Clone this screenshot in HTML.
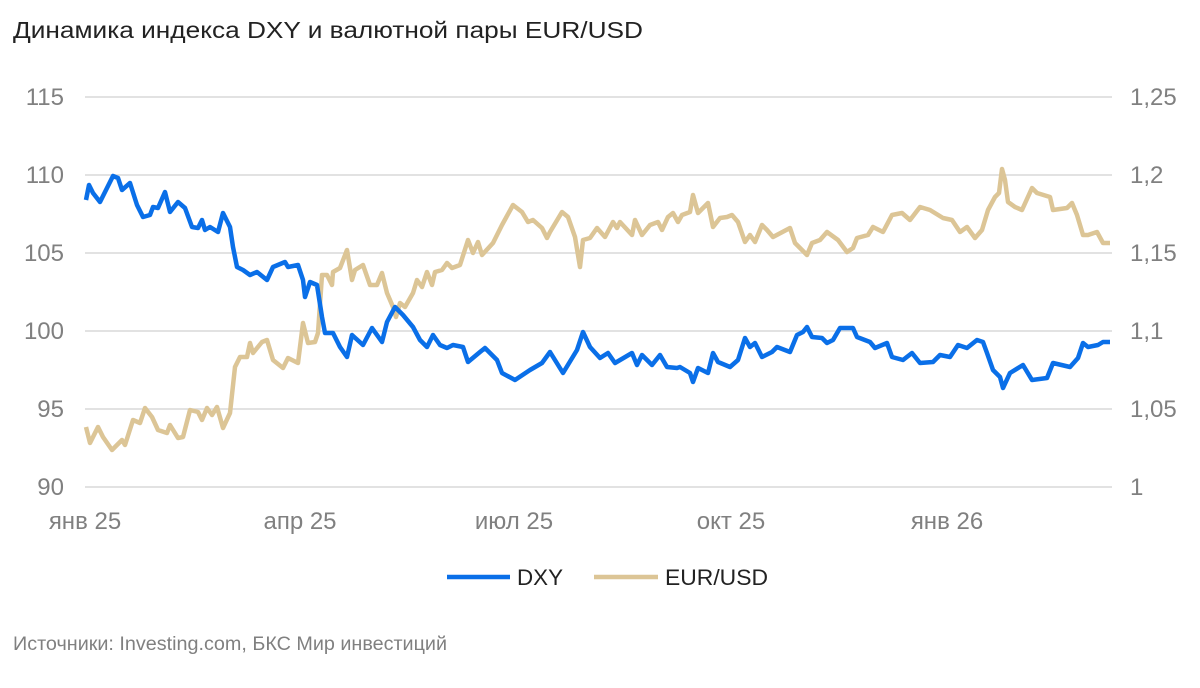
<!DOCTYPE html>
<html><head><meta charset="utf-8"><style>
body{margin:0;background:#fff;width:1200px;height:683px;overflow:hidden;font-family:"Liberation Sans",Arial,sans-serif}
</style></head><body>
<svg width="1200" height="683" xmlns="http://www.w3.org/2000/svg" font-family="Liberation Sans, Arial, sans-serif">
<text x="13" y="38" font-size="23" fill="#222" textLength="630" lengthAdjust="spacingAndGlyphs">Динамика индекса DXY и валютной пары EUR/USD</text>
<g stroke="#d9d9d9" stroke-width="1.5">
<line x1="85" x2="1112" y1="97" y2="97"/><line x1="85" x2="1112" y1="175" y2="175"/>
<line x1="85" x2="1112" y1="253" y2="253"/><line x1="85" x2="1112" y1="331" y2="331"/>
<line x1="85" x2="1112" y1="409" y2="409"/><line x1="85" x2="1112" y1="487" y2="487"/>
</g>
<g font-size="24" fill="#808080" text-anchor="end">
<text x="64" y="105">115</text><text x="64" y="183">110</text><text x="64" y="261">105</text>
<text x="64" y="339">100</text><text x="64" y="417">95</text><text x="64" y="495">90</text>
</g>
<g font-size="24" fill="#808080">
<text x="1130" y="105">1,25</text><text x="1130" y="183">1,2</text><text x="1130" y="261">1,15</text>
<text x="1130" y="339">1,1</text><text x="1130" y="417">1,05</text><text x="1130" y="495">1</text>
</g>
<g font-size="24" fill="#808080" text-anchor="middle">
<text x="85" y="529">янв 25</text><text x="300" y="529">апр 25</text><text x="514" y="529">июл 25</text>
<text x="731" y="529">окт 25</text><text x="947" y="529">янв 26</text>
</g>
<polyline fill="none" stroke="#dcc596" stroke-width="4.5" stroke-linejoin="round" points="86,427 90,443 98,427 103,437 112,450 117,445 122,440 125,445 133,420 140,423 145,408 152,417 158,430 167,433 170,425 178,438 183,437 190,410 198,412 202,420 207,408 212,415 217,407 223,428 230,413 235,367 240,357 247,357 250,343 253,353 262,342 267,340 273,360 283,368 288,358 298,363 303,323 308,343 315,342 318,333 322,275 327,275 332,285 333,272 340,268 347,250 352,280 355,270 363,265 370,285 377,285 382,273 387,293 393,307 396,317 400,303 405,307 413,293 417,280 422,287 427,272 432,285 435,272 442,270 447,263 452,268 460,265 468,240 473,253 478,242 482,255 493,243 502,225 513,205 522,212 528,222 533,220 542,228 547,238 550,232 562,212 568,217 575,237 580,267 583,240 590,238 597,228 605,237 613,222 617,228 620,222 632,235 635,220 642,235 650,225 658,222 662,230 668,217 673,213 678,222 682,215 690,212 693,195 698,213 708,203 713,227 720,218 727,217 732,215 738,222 745,242 750,235 755,242 762,225 767,230 773,237 790,228 795,243 800,248 807,255 812,243 820,240 827,232 838,240 847,252 853,248 857,238 868,235 873,227 883,232 892,215 902,213 910,220 920,207 930,210 943,218 952,220 960,232 967,227 975,238 982,230 988,210 995,197 999,193 1002,169 1005,180 1008,202 1015,207 1022,210 1032,188 1037,193 1050,197 1053,210 1067,208 1072,203 1077,215 1083,235 1088,235 1097,232 1103,243 1110,243"/>
<polyline fill="none" stroke="#0a6fe8" stroke-width="4.5" stroke-linejoin="round" points="86,200 89,185 93,193 100,202 105,192 113,176 118,178 122,190 130,183 137,205 143,217 150,215 153,207 158,208 165,192 170,212 178,202 185,208 192,227 198,228 202,220 205,230 210,227 218,232 223,213 230,227 233,247 237,267 243,270 250,275 257,272 267,280 273,267 285,262 288,267 298,265 303,280 305,297 310,282 317,285 322,317 325,333 333,333 340,347 347,357 352,335 363,345 372,328 382,342 387,322 395,307 403,315 413,327 420,340 427,347 433,335 440,345 447,348 453,345 463,347 468,362 480,352 485,348 497,360 502,373 515,380 530,370 542,363 550,352 563,373 577,350 583,332 590,347 600,358 608,353 615,363 632,353 637,365 642,355 652,365 660,355 667,367 677,368 680,367 690,373 693,382 698,368 708,373 713,353 718,362 730,367 738,360 745,338 750,347 755,343 762,357 772,352 777,347 790,352 797,335 803,332 807,327 812,337 822,338 827,343 833,340 840,328 853,328 857,337 870,342 875,348 887,343 892,357 903,360 912,353 920,363 933,362 940,355 950,357 958,345 967,348 977,340 983,342 987,353 993,370 1000,377 1003,388 1010,373 1023,365 1032,380 1047,378 1053,363 1070,367 1078,358 1083,343 1088,347 1098,345 1103,342 1110,342"/>
<line x1="447" x2="510" y1="577" y2="577" stroke="#0a6fe8" stroke-width="4.5"/>
<text x="517" y="585" font-size="22" fill="#222" textLength="46" lengthAdjust="spacingAndGlyphs">DXY</text>
<line x1="594" x2="658" y1="577" y2="577" stroke="#dcc596" stroke-width="4.5"/>
<text x="665" y="585" font-size="22" fill="#222" textLength="103" lengthAdjust="spacingAndGlyphs">EUR/USD</text>
<text x="13" y="650" font-size="19" fill="#808080" textLength="434" lengthAdjust="spacingAndGlyphs">Источники: Investing.com, БКС Мир инвестиций</text>
</svg>
</body></html>
